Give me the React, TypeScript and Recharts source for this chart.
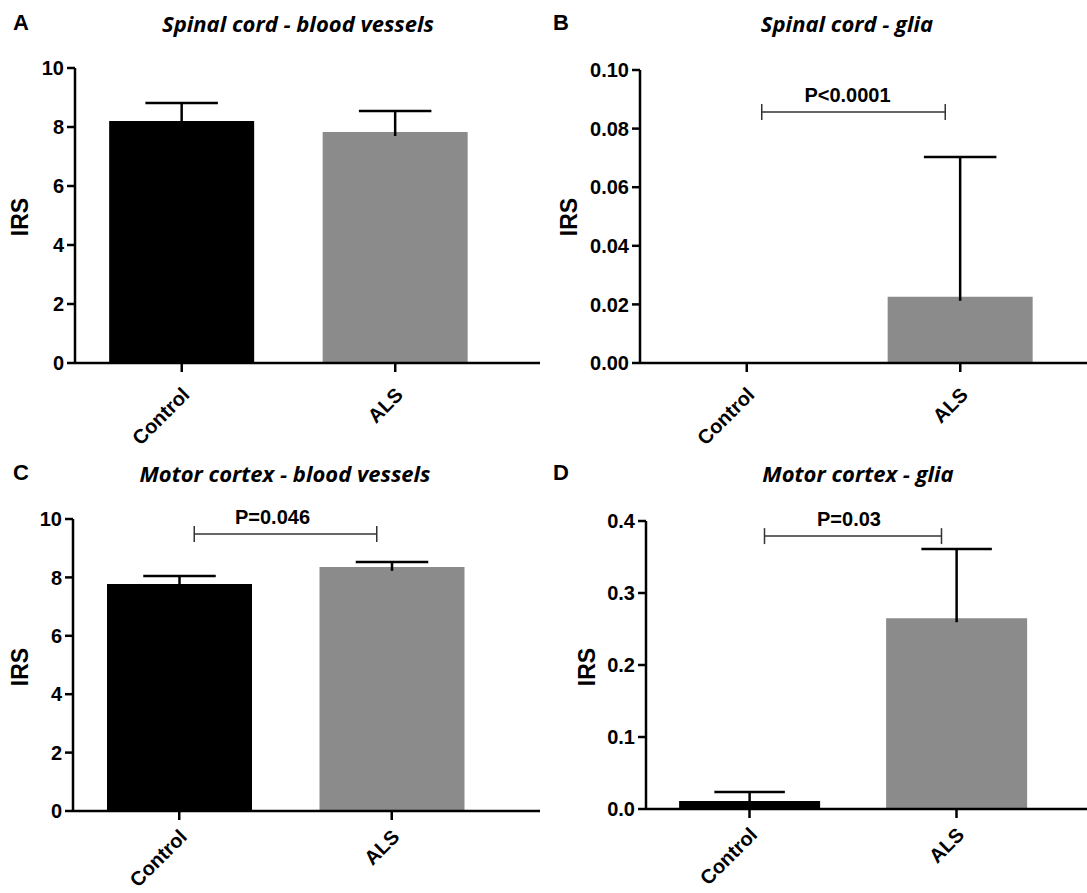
import { Bar, BarChart, Cell, ReferenceLine, XAxis, YAxis } from "recharts";

const categories = ["Control", "ALS"];
const barColors = ["#000000", "#8b8b8b"];

// mean and upper SEM for each panel
const spinalVesselMeans = [8.2, 7.83];
const spinalVesselErr = [0.61, 0.71];
const spinalGliaMeans = [0, 0.0226];
const spinalGliaErr = [0, 0.0477];
const cortexVesselMeans = [7.77, 8.36];
const cortexVesselErr = [0.28, 0.17];
const cortexGliaMeans = [0.011, 0.265];
const cortexGliaErr = [0.0126, 0.096];

const vesselTicks = [0, 2, 4, 6, 8, 10];
const spinalGliaTicks = [0, 0.02, 0.04, 0.06, 0.08, 0.1];
const cortexGliaTicks = [0, 0.1, 0.2, 0.3, 0.4];

const FONT = '"Liberation Sans", Arial, Helvetica, sans-serif';
const AXIS = { stroke: "#000", strokeWidth: 2.5 };

function XTick({ x, y, payload, dy }: any) {
  const tx = x + 9;
  const ty = y + dy;
  return (
    <text
      x={tx}
      y={ty}
      transform={`rotate(-45 ${tx} ${ty})`}
      textAnchor="end"
      fontSize={20}
      fontWeight={700}
      fill="#000"
      fontFamily={FONT}
    >
      {payload.value}
    </text>
  );
}

// stacked on top of the mean bar: draws the upper error whisker + cap
function ErrorCap(props: any) {
  const { x, y, width, height } = props;
  if (!height || height <= 0) return <g />;
  const cx = x + width / 2;
  const half = width / 4;
  return (
    <g stroke="#000" strokeWidth={2.5}>
      <line x1={cx} y1={y + height + 4} x2={cx} y2={y} />
      <line x1={cx - half} y1={y} x2={cx + half} y2={y} />
    </g>
  );
}

function Bracket(props: any) {
  const { x1, x2, y1, text, dx } = props;
  const a = x1 + 15;
  const b = x2 - 15;
  return (
    <g>
      <g stroke="#333" strokeWidth={1.5}>
        <line x1={a} y1={y1} x2={b} y2={y1} />
        <line x1={a} y1={y1 - 8} x2={a} y2={y1 + 8} />
        <line x1={b} y1={y1 - 8} x2={b} y2={y1 + 8} />
      </g>
      <text
        x={(a + b) / 2 + dx}
        y={y1 - 10}
        textAnchor="middle"
        fontSize={20}
        fontWeight={700}
        fill="#000"
        fontFamily={FONT}
      >
        {text}
      </text>
    </g>
  );
}

type PanelProps = {
  letter: string;
  title: string;
  means: number[];
  errs: number[];
  ticks: number[];
  decimals: number;
  left: number;
  top: number;
  width: number;
  height: number;
  yAxisWidth: number;
  marginTop: number;
  xAxisHeight: number;
  padRight: number;
  titleX: number;
  labelX: number;
  tickDy: number;
  pText?: string;
  pY?: number;
  pDx?: number;
};

function Panel(p: PanelProps) {
  const data = categories.map((name, i) => ({ name, mean: p.means[i], err: p.errs[i] }));
  const max = p.ticks[p.ticks.length - 1];
  return (
    <div style={{ position: "absolute", left: p.left, top: p.top, width: p.width, height: p.height }}>
      <div
        style={{
          position: "absolute",
          left: 21,
          top: 23,
          transform: "translate(-50%, -50%)",
          fontFamily: FONT,
          fontWeight: 700,
          fontSize: 22,
          lineHeight: 1,
        }}
      >
        {p.letter}
      </div>
      <div
        style={{
          position: "absolute",
          left: p.titleX,
          top: 23,
          transform: "translate(-50%, -50%)",
          fontFamily: '"Open Sans", sans-serif',
          fontStyle: "italic",
          fontWeight: 700,
          fontSize: 22,
          lineHeight: 1,
          whiteSpace: "nowrap",
        }}
      >
        {p.title}
      </div>
      <div
        style={{
          position: "absolute",
          left: p.labelX,
          top: 217,
          transform: "translate(-50%, -50%) rotate(-90deg)",
          fontFamily: FONT,
          fontWeight: 700,
          fontSize: 23,
          lineHeight: 1,
        }}
      >
        IRS
      </div>
      <BarChart
        width={p.width}
        height={p.height}
        data={data}
        margin={{ top: p.marginTop, right: 0, bottom: 0, left: 0 }}
        barCategoryGap="16%"
      >
        <XAxis
          dataKey="name"
          height={p.xAxisHeight}
          interval={0}
          padding={{ left: 0, right: p.padRight }}
          axisLine={AXIS}
          tickLine={AXIS}
          tickSize={9}
          tick={<XTick dy={p.tickDy} />}
        />
        <YAxis
          width={p.yAxisWidth}
          domain={[0, max]}
          ticks={p.ticks}
          interval={0}
          tickFormatter={(v: number) => v.toFixed(p.decimals)}
          axisLine={AXIS}
          tickLine={AXIS}
          tickSize={8}
          tickMargin={3}
          tick={{ fill: "#000", fontSize: 20, fontWeight: 700, fontFamily: FONT }}
        />
        <Bar dataKey="mean" stackId="s" isAnimationActive={false}>
          {data.map((d, i) => (
            <Cell key={d.name} fill={barColors[i]} />
          ))}
        </Bar>
        <Bar dataKey="err" stackId="s" isAnimationActive={false} shape={ErrorCap} />
        {p.pText && (
          <ReferenceLine
            segment={[
              { x: categories[0], y: p.pY },
              { x: categories[1], y: p.pY },
            ]}
            shape={(sp: any) => <Bracket {...sp} text={p.pText} dx={p.pDx ?? 0} />}
          />
        )}
      </BarChart>
    </div>
  );
}

export default function App() {
  return (
    <div style={{ position: "absolute", left: 0, top: 0, width: 1087, height: 893, background: "#fff" }}>
      <Panel
        letter="A"
        title="Spinal cord - blood vessels"
        means={spinalVesselMeans}
        errs={spinalVesselErr}
        ticks={vesselTicks}
        decimals={0}
        left={0}
        top={0}
        width={540}
        height={450}
        yAxisWidth={75}
        marginTop={68}
        xAxisHeight={87}
        padRight={38}
        titleX={298}
        labelX={20}
        tickDy={22}
      />
      <Panel
        letter="B"
        title="Spinal cord - glia"
        means={spinalGliaMeans}
        errs={spinalGliaErr}
        ticks={spinalGliaTicks}
        decimals={2}
        left={540}
        top={0}
        width={547}
        height={450}
        yAxisWidth={100}
        marginTop={70}
        xAxisHeight={87}
        padRight={20}
        titleX={307}
        labelX={29}
        tickDy={22}
        pText="P<0.0001"
        pY={0.0857}
        pDx={-6}
      />
      <Panel
        letter="C"
        title="Motor cortex - blood vessels"
        means={cortexVesselMeans}
        errs={cortexVesselErr}
        ticks={vesselTicks}
        decimals={0}
        left={0}
        top={450}
        width={540}
        height={443}
        yAxisWidth={73}
        marginTop={69}
        xAxisHeight={82}
        padRight={42}
        titleX={285}
        labelX={20}
        tickDy={16}
        pText="P=0.046"
        pY={9.49}
        pDx={-13}
      />
      <Panel
        letter="D"
        title="Motor cortex - glia"
        means={cortexGliaMeans}
        errs={cortexGliaErr}
        ticks={cortexGliaTicks}
        decimals={1}
        left={540}
        top={450}
        width={547}
        height={443}
        yAxisWidth={106}
        marginTop={71}
        xAxisHeight={84}
        padRight={27}
        titleX={318}
        labelX={47}
        tickDy={16}
        pText="P=0.03"
        pY={0.379}
        pDx={-4}
      />
    </div>
  );
}
